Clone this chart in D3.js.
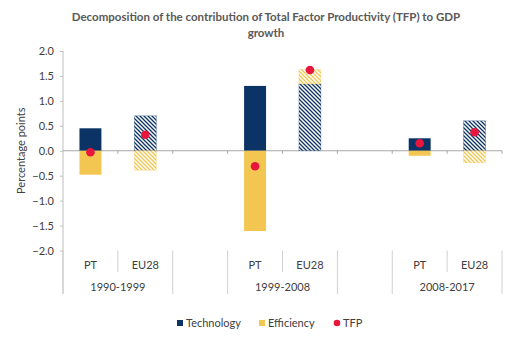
<!DOCTYPE html>
<html>
<head>
<meta charset="utf-8">
<script src="https://cdn.jsdelivr.net/npm/d3@7"></script>
<style>
  body { margin: 0; background: #fff; }
  text { font-family: Lato, "Open Sans", sans-serif; }
</style>
</head>
<body>
<svg id="chart" width="527" height="354"></svg>
<script>
// values
const periods = ["1990-1999", "1999-2008", "2008-2017"];
const regions = ["PT", "EU28"];
const technology = [0.45, 0.70, 1.30, 1.34, 0.25, 0.60];
const efficiency = [-0.48, -0.39, -1.61, 0.29, -0.10, -0.24];
const tfp = [-0.03, 0.32, -0.31, 1.62, 0.15, 0.37];
const yTicks = [2.0, 1.5, 1.0, 0.5, 0.0, -0.5, -1.0, -1.5, -2.0];

const navy = "#0b3366", gold = "#f2c650", red = "#e8163c";

// build slots: PT, EU28, blank spacer between periods
const slots = [];
periods.forEach((p, i) => {
  regions.forEach(r => slots.push({ key: p + "|" + r, period: p, region: r }));
  if (i < periods.length - 1) slots.push({ key: "gap" + i, period: null, region: null });
});
const rows = [];
periods.forEach((p, i) => regions.forEach((r, j) => {
  const k = i * regions.length + j;
  rows.push({ key: p + "|" + r, period: p, region: r, tech: technology[k], eff: efficiency[k], tfp: tfp[k] });
}));

const svg = d3.select("#chart");
const plotL = 63, plotR = 502, plotT = 51, plotB = 250.5;

const x = d3.scaleBand().domain(slots.map(d => d.key)).range([plotL, plotR]).padding(0);
const y = d3.scaleLinear().domain([-2, 2]).range([plotB, plotT]);
const barW = x.bandwidth() * 0.4;

// hatch patterns for EU28
const defs = svg.append("defs");
function hatch(id, color) {
  const p = defs.append("pattern").attr("id", id).attr("patternUnits", "userSpaceOnUse")
    .attr("width", 4).attr("height", 4);
  p.append("rect").attr("width", 4).attr("height", 4).attr("fill", "#fff");
  p.append("path").attr("d", "M-1,-1 L5,5 M-1,3 L1,5 M3,-1 L5,1")
    .attr("stroke", color).attr("stroke-width", 1.3);
}
hatch("hatchNavy", navy);
hatch("hatchGold", gold);

// title
svg.append("text").attr("x", 266).attr("y", 21).attr("text-anchor", "middle")
  .attr("font-size", 11.5).attr("font-weight", "bold").attr("fill", "#595959")
  .text("Decomposition of the contribution of Total Factor Productivity (TFP) to GDP");
svg.append("text").attr("x", 266).attr("y", 37).attr("text-anchor", "middle")
  .attr("font-size", 11.5).attr("font-weight", "bold").attr("fill", "#595959")
  .text("growth");

// y axis
const yAxis = svg.append("g").attr("transform", `translate(${plotL},0)`)
  .call(d3.axisLeft(y).tickValues(yTicks).tickFormat(d3.format(".1f")).tickSize(3).tickSizeOuter(0));
yAxis.select(".domain").remove();
yAxis.selectAll(".tick line").attr("stroke", "#bfbfbf");
yAxis.selectAll(".tick text").attr("font-size", 11).attr("fill", "#404040").attr("dx", -3)
  .attr("font-family", "Lato, 'Open Sans', sans-serif");
svg.append("line").attr("x1", plotL).attr("x2", plotL).attr("y1", plotT).attr("y2", 294)
  .attr("stroke", "#bfbfbf");

svg.append("text").attr("transform", `translate(25,${(plotT + plotB) / 2}) rotate(-90)`)
  .attr("text-anchor", "middle").attr("font-size", 11).attr("fill", "#404040")
  .text("Percentage points");

// zero line with small ticks
svg.append("line").attr("x1", plotL).attr("x2", plotR).attr("y1", y(0)).attr("y2", y(0))
  .attr("stroke", "#a6a6a6");
svg.append("g").selectAll("line").data(slots).join("line")
  .attr("x1", d => x(d.key) + x.bandwidth()).attr("x2", d => x(d.key) + x.bandwidth())
  .attr("y1", y(0)).attr("y2", y(0) + 3).attr("stroke", "#a6a6a6");

// bars
const stacks = rows.map(d => {
  const segs = [];
  let pos = 0, neg = 0;
  [["tech", d.tech], ["eff", d.eff]].forEach(([s, v]) => {
    if (v >= 0) { segs.push({ key: d.key, region: d.region, s, y0: pos, y1: pos + v }); pos += v; }
    else { segs.push({ key: d.key, region: d.region, s, y0: neg + v, y1: neg }); neg += v; }
  });
  return segs;
}).flat();

const fillOf = d => {
  if (d.region === "PT") return d.s === "tech" ? navy : gold;
  return d.s === "tech" ? "url(#hatchNavy)" : "url(#hatchGold)";
};
svg.append("g").selectAll("rect").data(stacks).join("rect")
  .attr("x", d => x(d.key) + (x.bandwidth() - barW) / 2)
  .attr("width", barW)
  .attr("y", d => y(d.y1))
  .attr("height", d => y(d.y0) - y(d.y1))
  .attr("fill", fillOf)
  .attr("stroke", d => d.s === "tech" ? navy : gold)
  .attr("stroke-opacity", d => d.region === "PT" ? 0 : 0.5)
  .attr("stroke-width", 0.6);

// TFP dots
svg.append("g").selectAll("circle").data(rows).join("circle")
  .attr("cx", d => x(d.key) + x.bandwidth() / 2)
  .attr("cy", d => y(d.tfp))
  .attr("r", 4.3).attr("fill", red);

// category labels and separators
const cat = svg.append("g");
rows.forEach(d => {
  cat.append("text").attr("x", x(d.key) + x.bandwidth() / 2).attr("y", 269)
    .attr("text-anchor", "middle").attr("font-size", 11).attr("fill", "#404040").text(d.region);
});
periods.forEach(p => {
  const x0 = x(p + "|" + regions[0]), x1 = x(p + "|" + regions[1]) + x.bandwidth();
  cat.append("text").attr("x", (x0 + x1) / 2).attr("y", 291)
    .attr("text-anchor", "middle").attr("font-size", 11).attr("fill", "#404040").text(p);
  cat.append("line").attr("x1", x1 - x.bandwidth()).attr("x2", x1 - x.bandwidth())
    .attr("y1", plotB).attr("y2", 272).attr("stroke", "#d0d0d0");
  [x0, x1].forEach(xx => cat.append("line").attr("x1", xx).attr("x2", xx)
    .attr("y1", plotB).attr("y2", 294).attr("stroke", "#d0d0d0"));
});

// legend
const legendItems = [
  { label: "Technology", type: "rect", color: navy, x: 177 },
  { label: "Efficiency", type: "rect", color: gold, x: 259 },
  { label: "TFP", type: "dot", color: red, x: 334 }
];
const lg = svg.append("g");
legendItems.forEach(d => {
  if (d.type === "rect") {
    lg.append("rect").attr("x", d.x).attr("y", 320).attr("width", 6).attr("height", 6).attr("fill", d.color);
  } else {
    lg.append("circle").attr("cx", d.x + 3).attr("cy", 323).attr("r", 3.3).attr("fill", d.color);
  }
  lg.append("text").attr("x", d.x + 9).attr("y", 327).attr("font-size", 11).attr("fill", "#404040").text(d.label);
});
</script>
</body>
</html>
